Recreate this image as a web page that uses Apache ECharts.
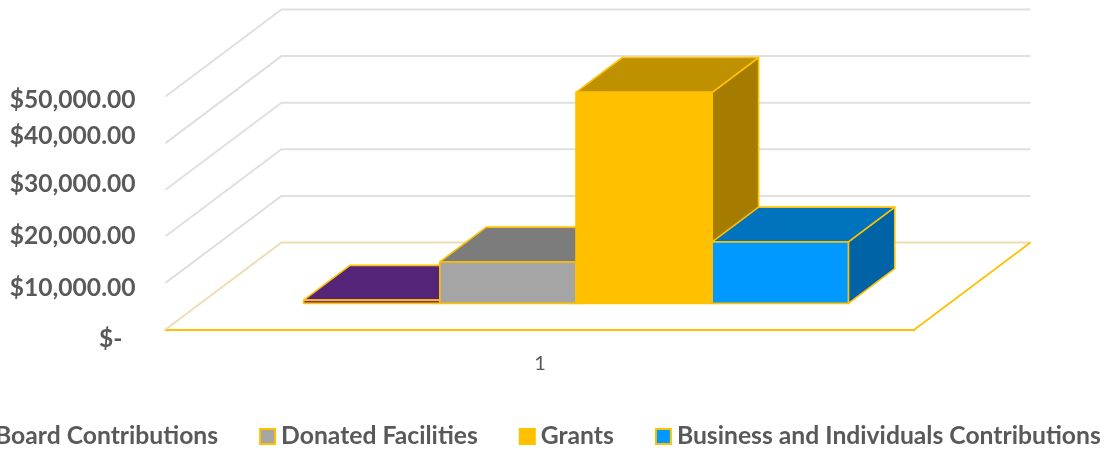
<!DOCTYPE html>
<html>
<head>
<meta charset="utf-8">
<style>html,body{margin:0;padding:0;background:#fff;overflow:hidden}#c{width:1110px;height:451px}</style>
<script src="https://cdn.jsdelivr.net/npm/echarts@6/dist/echarts.min.js"></script>
</head>
<body>
<div id="c"></div>
<script>
const categories = ['1'];
const boardContributions = [700];
const donatedFacilities = [8900];
const grants = [45300];
const businessContributions = [13200];
const yTicks = [0, 10000, 20000, 30000, 40000, 50000];
const yTickLabels = ['$-', '$10,000.00', '$20,000.00', '$30,000.00', '$40,000.00', '$50,000.00'];

// Label nudges: the reference's tick labels do not sit exactly on their gridlines.
const labelShift = [10, 5, -0.5, -5.5, -7, 3.5];
const DEPTH_X = 116, DEPTH_Y = 87, BAR_NUDGE = 1.2;
const GOLD = '#FFC000';
const TEXT = '#595959';
const FONT = 'Lato';

const seriesDefs = [
  {name: 'Board Contributions', data: boardContributions, front: '#7030A0', top: '#542478', side: '#491F68'},
  {name: 'Donated Facilities', data: donatedFacilities, front: '#A5A5A5', top: '#7C7C7C', side: '#6B6B6B'},
  {name: 'Grants', data: grants, front: '#FFC000', top: '#BF9000', side: '#A67C00'},
  {name: 'Business and Individuals Contributions', data: businessContributions, front: '#0099FF', top: '#0073BF', side: '#0063A6'}
];
const GAP = 1.5, D0 = 0.3, D1 = 0.7;

function bar3d(idx, def) {
  return function (params, api) {
    const base = api.coord([api.value(0), 0]);
    const topP = api.coord([api.value(0), api.value(1)]);
    const band = api.size([1, 0])[0];
    const w = band / (seriesDefs.length + GAP);
    const x0 = base[0] - band / 2 + w * GAP / 2 + idx * w + D0 * DEPTH_X + BAR_NUDGE;
    const x1 = x0 + w;
    const yb = base[1] - D0 * DEPTH_Y;
    const yt = topP[1] - D0 * DEPTH_Y;
    const dx = (D1 - D0) * DEPTH_X, dy = (D1 - D0) * DEPTH_Y;
    const line = {stroke: GOLD, lineWidth: 1.6, lineJoin: 'round'};
    const face = (pts, fill) => ({
      type: 'polygon', shape: {points: pts}, style: Object.assign({fill: fill}, line)
    });
    return {type: 'group', children: [
      face([[x1, yb], [x1 + dx, yb - dy], [x1 + dx, yt - dy], [x1, yt]], def.side),
      face([[x0, yt], [x1, yt], [x1 + dx, yt - dy], [x0 + dx, yt - dy]], def.top),
      face([[x0, yb], [x1, yb], [x1, yt], [x0, yt]], def.front)
    ]};
  };
}

function walls(params, api) {
  const v = api.value(1);
  const p = api.coord([api.value(0), v]);
  const band = api.size([1, 0])[0];
  const x0 = p[0] - band / 2, x1 = p[0] + band / 2, y = p[1];
  const stroke = v === 0 ? '#EEDDB0' : '#E0E0E0';
  const children = [{
    type: 'polyline',
    shape: {points: [[x0, y], [x0 + DEPTH_X, y - DEPTH_Y], [x1 + DEPTH_X, y - DEPTH_Y]]},
    style: {fill: 'none', stroke: stroke, lineWidth: 2}
  }];
  if (v === 0) {
    children.push({
      type: 'line',
      shape: {x1: x1, y1: y, x2: x1 + DEPTH_X, y2: y - DEPTH_Y},
      style: {stroke: GOLD, lineWidth: 1.6}
    });
  }
  return {type: 'group', children: children};
}

const rich = {};
yTickLabels.forEach((t, i) => {
  const s = labelShift[i];
  rich['l' + i] = {
    fontFamily: FONT, fontWeight: 'bold', fontSize: 24.6, color: TEXT,
    padding: [s > 0 ? 2 * s : 0, i === 0 ? 13 : 0, s < 0 ? -2 * s : 0, 0]
  };
});

const chart = echarts.init(document.getElementById('c'), null, {renderer: 'canvas'});
chart.setOption({
  animation: false,
  backgroundColor: '#fff',
  grid: {left: 165.5, width: 749, top: 96.5, height: 233},
  legend: {
    data: seriesDefs.map(d => d.name),
    left: -32, top: 419, width: 1400,
    icon: 'rect', itemWidth: 15, itemHeight: 15, itemGap: 41,
    textStyle: {fontFamily: FONT, fontWeight: 'bold', fontSize: 24.7, color: TEXT, padding: [0, 0, 0, 1]}
  },
  xAxis: {
    type: 'category', data: categories,
    axisLine: {lineStyle: {color: GOLD, width: 2}},
    axisTick: {show: false},
    axisLabel: {margin: 24, fontFamily: FONT, fontSize: 20, color: TEXT}
  },
  yAxis: {
    type: 'value', min: 0, max: 50000, interval: 10000,
    axisLine: {show: false}, axisTick: {show: false}, splitLine: {show: false},
    axisLabel: {
      margin: 30,
      formatter: (v) => { const i = yTicks.indexOf(v); return '{l' + i + '|' + yTickLabels[i] + '}'; },
      rich: rich
    }
  },
  series: [{
    type: 'custom', name: 'walls', silent: true, z: 1,
    renderItem: walls, encode: {x: 0, y: 1},
    data: yTicks.map(v => [0, v]), clip: false
  }].concat(seriesDefs.map((d, i) => ({
    type: 'custom', name: d.name, z: 2 + i, clip: false,
    renderItem: bar3d(i, d), encode: {x: 0, y: 1},
    itemStyle: {color: d.front, borderColor: GOLD, borderWidth: 2},
    data: d.data.map((v, k) => [k, v])
  })))
});
</script>
</body>
</html>
